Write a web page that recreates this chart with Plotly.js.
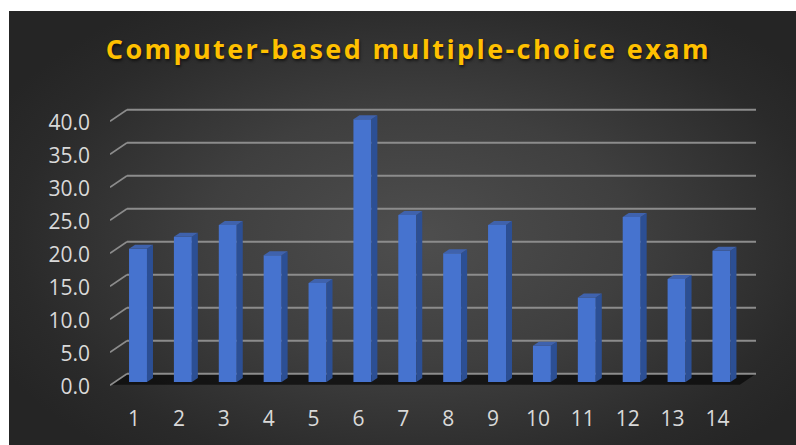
<!DOCTYPE html>
<html>
<head>
<meta charset="utf-8">
<script src="https://cdn.plot.ly/plotly-3.0.1.min.js"></script>
<style>
  html, body { margin: 0; padding: 0; background: #ffffff; }
  #bg { position: absolute; left: 9px; top: 11px; width: 787px; height: 434px;
        background: radial-gradient(ellipse 60% 65% at 52% 52%, #4e4e4e 0%, #3f3f3f 45%, #2a2a2a 85%, #252525 100%); }
  #chart { position: absolute; left: 0; top: 0; width: 796px; height: 445px; }
  .gtitle { letter-spacing: 2.4px; text-shadow: 1px 2px 3px rgba(0,0,0,0.6); }
</style>
</head>
<body>
<div id="bg"></div>
<div id="chart"></div>
<script>
// Data
const categories = ["1","2","3","4","5","6","7","8","9","10","11","12","13","14"];
const values = [20.2, 22.0, 23.8, 19.2, 15.0, 39.8, 25.3, 19.5, 23.8, 5.5, 12.8, 25.0, 15.6, 19.9];
const yTicks = [0, 5, 10, 15, 20, 25, 30, 35, 40];
const yTickLabels = ["0.0","5.0","10.0","15.0","20.0","25.0","30.0","35.0","40.0"];

const xs = categories.map(Number);
const barW = 0.4;
const depthX = 0.134, depthY = 0.6;   // 3D depth offset (axis units)
const backX0 = 0.755, xMin = 0.376, xMax = 14.77;
const backOff = 1.25, frontOff = -0.5;

const shapes = [];
// floor shadow
shapes.push({type:'path', xref:'x', yref:'y', layer:'below',
  path:`M ${xMin+0.05},${frontOff+0.1} L ${xMax-0.36},${frontOff+0.1} L ${xMax},${backOff} L ${backX0},${backOff} Z`,
  fillcolor:'rgba(10,10,10,0.75)', line:{width:0}});
// back-wall gridlines + left diagonals
yTicks.forEach(v => {
  shapes.push({type:'line', xref:'x', yref:'y', layer:'below',
    x0: backX0, x1: xMax, y0: v + backOff, y1: v + backOff,
    line:{color:'#8c8c8c', width:2}});
  shapes.push({type:'line', xref:'x', yref:'y', layer:'below',
    x0: xMin, x1: backX0, y0: v + frontOff, y1: v + backOff,
    line:{color:'#8c8c8c', width:1.6}});
});
// bar side and top faces
xs.forEach((x, i) => {
  const h = values[i];
  const r = x + barW/2, l = x - barW/2;
  shapes.push({type:'path', xref:'x', yref:'y', layer:'above',
    path:`M ${r},0 L ${r+depthX},${depthY} L ${r+depthX},${h+depthY} L ${r},${h} Z`,
    fillcolor:'#2c4f94', line:{width:0}});
  shapes.push({type:'path', xref:'x', yref:'y', layer:'above',
    path:`M ${l},${h} L ${r},${h} L ${r+depthX},${h+depthY} L ${l+depthX},${h+depthY} Z`,
    fillcolor:'#3f62ad', line:{width:0}});
});

const trace = {
  type:'bar', x: xs, y: values, width: barW,
  marker:{color:'#4673cf', line:{width:0}},
  hoverinfo:'x+y'
};

const layout = {
  width: 796, height: 445,
  margin:{l:110, r:40, t:100, b:55},
  paper_bgcolor:'rgba(0,0,0,0)', plot_bgcolor:'rgba(0,0,0,0)',
  showlegend:false,
  title:{text:'Computer-based multiple-choice exam', x:0.513, xanchor:'center',
         y:0.888, yanchor:'middle',
         font:{family:'Open Sans', size:27, color:'#FFC000', weight:'bold'}},
  xaxis:{range:[xMin, xMax], tickvals: xs, ticktext: categories,
         showgrid:false, zeroline:false, showline:false, ticks:'',
         ticklabelstandoff: 14, ticklabelshift: -4,
         tickfont:{family:'Open Sans', size:21, color:'#d9d9d9'}},
  yaxis:{range:[-1.212, 42.727], tickvals: yTicks, ticktext: yTickLabels,
         showgrid:false, zeroline:false, showline:false, ticks:'',
         ticklabelstandoff: 19, ticklabelshift: 5,
         tickfont:{family:'Open Sans', size:21, color:'#d9d9d9'}},
  shapes: shapes
};

Plotly.newPlot('chart', [trace], layout, {displayModeBar:false, staticPlot:true});
</script>
</body>
</html>
